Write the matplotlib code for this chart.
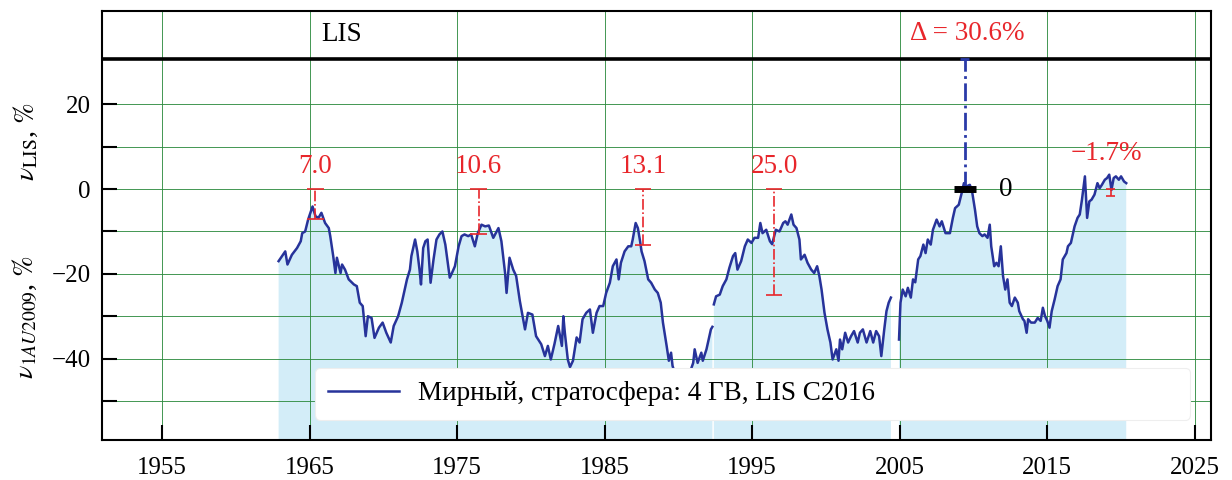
import numpy as np
import matplotlib
matplotlib.use("Agg")
import matplotlib.pyplot as plt

# -------------------------
# Données
# -------------------------
annees = [
    1962.9, 1963.35, 1963.5, 1963.8, 1964.15, 1964.4, 1964.5, 1964.7, 1964.9, 1965.2,
    1965.4, 1965.6, 1965.8, 1966.05, 1966.3, 1966.4, 1966.6, 1966.75, 1966.85, 1967.1,
    1967.2, 1967.4, 1967.65, 1968.0, 1968.2, 1968.4, 1968.6, 1968.8, 1968.95, 1969.2,
    1969.4, 1969.7, 1969.95, 1970.2, 1970.5, 1970.7, 1971.0, 1971.25, 1971.6, 1971.8,
    1971.9, 1972.15, 1972.3, 1972.45, 1972.55, 1972.7, 1972.85, 1973.0, 1973.2, 1973.4,
    1973.6, 1973.8, 1974.0, 1974.2, 1974.4, 1974.5, 1974.65, 1974.85, 1975.1, 1975.3,
    1975.5, 1975.75, 1975.95, 1976.2, 1976.4, 1976.65, 1976.9, 1977.15, 1977.45, 1977.8,
    1978.0, 1978.25, 1978.35, 1978.55, 1978.8, 1979.0, 1979.25, 1979.6, 1979.8, 1980.1,
    1980.35, 1980.7, 1980.95, 1981.15, 1981.35, 1981.6, 1981.85, 1982.1, 1982.2, 1982.3,
    1982.5, 1982.65, 1982.85, 1983.1, 1983.3, 1983.5, 1983.75, 1984.0, 1984.2, 1984.45,
    1984.65, 1984.9, 1985.1, 1985.35, 1985.55, 1985.8, 1985.95, 1986.1, 1986.35, 1986.6,
    1986.8, 1986.9, 1987.1, 1987.25, 1987.4, 1987.5, 1987.7, 1987.95, 1988.15, 1988.4,
    1988.6, 1988.8, 1988.95, 1989.2, 1989.35, 1989.5, 1989.6, 1989.9, 1990.3, 1990.7,
    1991.0, 1991.1, 1991.3, 1991.55, 1991.65, 1991.9, 1992.2, 1992.3, 1992.35, 1992.4,
    1992.55, 1992.8, 1993.0, 1993.25, 1993.45, 1993.7, 1993.85, 1994.0, 1994.25, 1994.5,
    1994.7, 1994.95, 1995.15, 1995.4, 1995.55, 1995.7, 1995.95, 1996.2, 1996.35, 1996.6,
    1996.85, 1997.1, 1997.25, 1997.4, 1997.65, 1997.8, 1998.0, 1998.2, 1998.3, 1998.55,
    1998.75, 1999.0, 1999.2, 1999.4, 1999.55, 1999.7, 1999.9, 2000.1, 2000.3, 2000.45,
    2000.7, 2000.85, 2000.95, 2001.1, 2001.3, 2001.5, 2001.7, 2001.9, 2002.15, 2002.3,
    2002.5, 2002.75, 2003.0, 2003.2, 2003.4, 2003.6, 2003.75, 2003.95, 2004.1, 2004.25,
    2004.4, 2004.6, 2004.95, 2005.05, 2005.2, 2005.4, 2005.55, 2005.75, 2005.9, 2006.05,
    2006.25, 2006.4, 2006.6, 2006.75, 2006.9, 2007.1, 2007.25, 2007.5, 2007.7, 2007.85,
    2008.1, 2008.4, 2008.6, 2008.75, 2009.0, 2009.2, 2009.35, 2009.5, 2009.75, 2009.9,
    2010.1, 2010.25, 2010.4, 2010.6, 2010.75, 2010.95, 2011.1, 2011.2, 2011.4, 2011.55,
    2011.7, 2011.85, 2012.0, 2012.15, 2012.3, 2012.45, 2012.6, 2012.8, 2013.0, 2013.1,
    2013.35, 2013.45, 2013.6, 2013.7, 2013.9, 2014.15, 2014.35, 2014.55, 2014.7, 2014.85,
    2015.0, 2015.15, 2015.3, 2015.5, 2015.7, 2015.9, 2016.05, 2016.3, 2016.4, 2016.6,
    2016.75, 2016.85, 2017.05, 2017.2, 2017.35, 2017.55, 2017.7, 2017.85, 2018.0, 2018.2,
    2018.4, 2018.55, 2018.7, 2018.9, 2019.05, 2019.2, 2019.35, 2019.5, 2019.65, 2019.85,
    2020.0, 2020.2, 2020.35,
]
nu = [
    -17.0, -14.7, -17.8, -15.5, -13.9, -12.3, -10.4, -10.0, -7.2, -4.1,
    -6.4, -6.8, -5.6, -8.0, -9.2, -11.1, -15.8, -19.8, -16.2, -19.8,
    -17.8, -19.0, -21.3, -22.5, -22.9, -26.8, -27.6, -34.7, -30.0, -30.4,
    -35.1, -32.7, -31.5, -33.9, -36.2, -32.3, -30.0, -26.8, -21.3, -19.0,
    -15.8, -11.9, -14.7, -19.0, -22.5, -13.9, -12.3, -11.9, -22.1, -16.6,
    -11.9, -10.7, -10.0, -13.1, -18.2, -20.9, -19.8, -18.2, -13.5, -11.1,
    -10.7, -11.1, -10.7, -13.5, -10.4, -8.4, -8.8, -8.6, -11.5, -9.2,
    -12.3, -19.8, -24.5, -16.2, -19.0, -20.5, -26.4, -33.1, -29.2, -29.6,
    -34.7, -36.6, -39.4, -37.0, -40.2, -36.5, -32.3, -37.0, -30.0, -33.9,
    -40.2, -42.0, -40.5, -35.0, -36.2, -30.7, -29.2, -28.4, -33.9, -29.2,
    -27.6, -27.6, -24.5, -22.1, -18.2, -16.6, -21.3, -17.4, -14.7, -13.5,
    -13.5, -11.9, -8.0, -9.2, -12.3, -14.7, -17.0, -21.3, -22.1, -23.7,
    -24.5, -26.8, -31.5, -37.0, -40.5, -38.6, -41.7, -45.0, -47.0, -44.0,
    -41.0, -37.8, -41.0, -38.6, -40.5, -37.8, -33.1, -32.5, np.nan, -27.2,
    -25.3, -24.9, -22.9, -21.3, -18.6, -15.8, -15.1, -19.0, -17.0, -13.5,
    -11.9, -12.7, -11.5, -11.5, -8.0, -10.4, -9.6, -12.3, -13.0, -9.6,
    -10.0, -8.0, -7.6, -8.4, -6.0, -8.4, -9.2, -11.9, -16.6, -15.5,
    -17.4, -19.0, -19.8, -18.2, -20.5, -23.7, -29.2, -33.1, -36.2, -40.2,
    -37.8, -40.5, -35.5, -37.8, -33.9, -36.2, -34.7, -33.5, -36.2, -33.9,
    -33.1, -36.2, -33.5, -36.2, -33.5, -34.7, -39.4, -33.1, -28.8, -26.8,
    -25.6, np.nan, -35.5, -26.8, -23.7, -25.3, -23.3, -25.6, -21.3, -22.0,
    -16.6, -15.8, -13.1, -15.1, -11.9, -13.1, -9.6, -7.2, -8.8, -7.6,
    -10.4, -10.4, -6.8, -4.5, -3.7, -0.9, 1.4, 0.6, 1.0, -0.5,
    -4.9, -8.8, -10.4, -11.1, -10.7, -11.5, -8.4, -13.5, -18.2, -17.4,
    -18.2, -13.5, -20.5, -23.7, -21.3, -26.8, -27.6, -25.6, -26.8, -28.8,
    -30.7, -31.1, -33.9, -30.7, -31.5, -31.5, -30.4, -31.1, -28.0, -30.0,
    -31.1, -32.7, -28.8, -26.0, -22.9, -21.3, -16.6, -15.1, -13.5, -12.7,
    -10.4, -8.8, -6.8, -6.0, -2.5, 3.0, -6.8, -2.9, -2.5, -1.3,
    1.4, 0.2, 1.0, 2.2, 2.6, 3.4, -0.2, 2.6, 3.0, 2.2,
    3.0, 1.8, 1.4,
]

# Ecarts aux maxima des cycles (en %)
max_annees = [1965.4, 1976.45, 1987.6, 1996.5]
max_ecarts = [7.0, 10.6, 13.1, 25.0]
max_textes = ["7.0", "10.6", "13.1", "25.0"]

niveau_lis = 30.6
annee_ref = 2009.4
annee_recente = 2019.3
ecart_recent = 1.7

annees = np.array(annees)
nu = np.array(nu)

rouge = "#e8262b"
bleu = "#27339a"
vert = "#2e8b40"

plt.rcParams["font.family"] = ["Liberation Serif", "DejaVu Serif"]
plt.rcParams["mathtext.fontset"] = "stix"

fig = plt.figure(figsize=(12.32, 4.8), dpi=100)
ax = fig.add_axes([0.0828, 0.0833, 0.9002, 0.8937])

# Remplissage bleu clair sous la courbe
ax.fill_between(annees, nu, -60, color="#d3edf8", lw=0, zorder=1)
ax.plot(annees, nu, color=bleu, lw=1.8, zorder=3,
        label="Мирный, стратосфера: 4 ГВ, LIS C2016")

# Niveau LIS
ax.axhline(niveau_lis, color="black", lw=2.6, zorder=4)

# Ecarts rouges (tirets-points avec butées)
for a, e, t in zip(max_annees, max_ecarts, max_textes):
    ax.vlines(a, -e, 0, colors=rouge, linestyles="-.", lw=1.2, zorder=4)
    ax.hlines([0, -e], a - 0.55, a + 0.55, colors=rouge, lw=1.2, zorder=4)
    ax.text(a, 2.3, t, color=rouge, fontsize=19.5, ha="center", va="bottom")

# Ecart total par rapport au LIS
ax.vlines(annee_ref, 0, niveau_lis, colors="#2a3aa8", linestyles="-.", lw=2.0, zorder=4)
ax.hlines(niveau_lis, annee_ref - 0.3, annee_ref + 0.3, colors="#2a3aa8", lw=2.0, zorder=5)
ax.hlines(0, annee_ref - 0.7, annee_ref + 0.8, colors="black", lw=5, zorder=4)
ax.text(annee_ref + 0.2, 33.8, "Δ = 30.6%", color=rouge, fontsize=19.5, ha="center", va="bottom")
ax.text(annee_ref + 2.3, 0, "0", color="black", fontsize=19.5, ha="left", va="center")

# Dernier point (2019)
ax.vlines(annee_recente, -ecart_recent, 0, colors=rouge, lw=1.2, zorder=4)
ax.hlines([0, -ecart_recent], annee_recente - 0.3, annee_recente + 0.3, colors=rouge, lw=1.2, zorder=4)
ax.text(annee_recente - 0.3, 5.5, "−1.7%", color=rouge, fontsize=19.5, ha="center", va="bottom")

ax.text(1965.8, 36.5, "LIS", color="black", fontsize=19.5, ha="left", va="center")

# Axes
ax.set_xlim(1950.93, 2026.1)
ax.set_ylim(-59.2, 42.0)
ax.set_xticks(np.arange(1955, 2026, 10))
ax.set_yticks([20, 0, -20, -40])
ax.set_yticks([10, -10, -30, -50], minor=True)
ax.tick_params(axis="both", which="both", direction="in", length=11, width=1.5, labelsize=18)
ax.tick_params(axis="x", pad=12)
ax.tick_params(axis="y", pad=8)
ax.set_axisbelow("line")
ax.grid(True, which="both", color=vert, lw=0.7, alpha=0.9)
for s in ax.spines.values():
    s.set_linewidth(1.5)

# Légende
leg = ax.legend(loc="lower left", bbox_to_anchor=(0.192, 0.047, 0.789, 0.13), mode="expand",
                borderaxespad=0, fontsize=19.5, handlelength=2.6, handletextpad=0.7,
                borderpad=0.5, frameon=True, fancybox=True, framealpha=1.0)
leg.get_frame().set_edgecolor("#eeeeee")
leg.get_frame().set_linewidth(0.8)

# Libellés de l'axe y
fig.text(0.021, 0.705, r"$\nu_{\mathrm{LIS}}$, $\%$", rotation=90, fontsize=20, ha="center", va="center")
fig.text(0.021, 0.34, r"$\nu_{1AU2009}$, $\%$", rotation=90, fontsize=20, ha="center", va="center")

fig.savefig("out.png", dpi=100)
